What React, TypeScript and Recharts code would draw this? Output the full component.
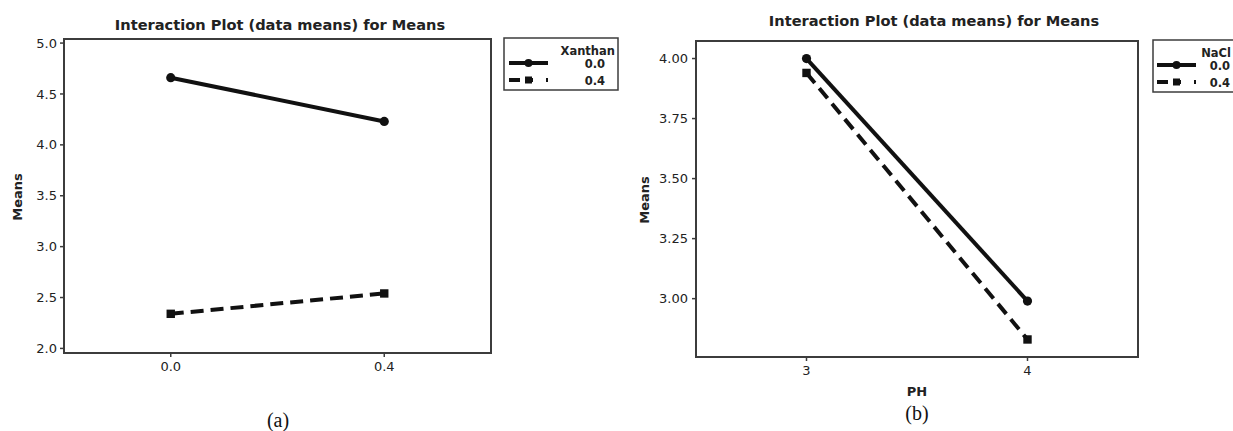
import React from "react";
import { LineChart, Line, XAxis, YAxis, ReferenceArea } from "recharts";

// ---- data ----
const xanthanLevels = [0.0, 0.4];
const xanthanTickLabels = ["0.0", "0.4"];
const meansXanthan00 = [4.66, 4.23];
const meansXanthan04 = [2.34, 2.54];
const leftYTicks = [2.0, 2.5, 3.0, 3.5, 4.0, 4.5, 5.0];

const phLevels = [3, 4];
const phTickLabels = ["3", "4"];
const meansNaCl00 = [4.0, 2.99];
const meansNaCl04 = [3.94, 2.83];
const rightYTicks = [3.0, 3.25, 3.5, 3.75, 4.0];

const legendLevels = ["0.0", "0.4"];
const titleText = "Interaction Plot (data means) for Means";

const toPoints = (xs: number[], ys: number[]) => xs.map((x, i) => ({ x, y: ys[i] }));

const INK = "#111";
const FRAME = "#3c3c3c";
const SANS = "'DejaVu Sans', Verdana, sans-serif";
const SERIF = "'Liberation Serif', 'Times New Roman', serif";

const CircleDot = (p: any) => {
  if (p.cx == null || p.cy == null) return <g key={p.key} />;
  return <circle key={p.key} cx={p.cx} cy={p.cy} r={4.6} fill={INK} stroke="none" />;
};
const SquareDot = (p: any) => {
  if (p.cx == null || p.cy == null) return <g key={p.key} />;
  return <rect key={p.key} x={p.cx - 4.2} y={p.cy - 4.2} width={8.4} height={8.4} fill={INK} stroke="none" />;
};

const tickStyle = { fontFamily: SANS, fontSize: 13, fill: "#222" };
const tickLineStyle = { stroke: FRAME, strokeWidth: 1.5 };

function Panel(props: {
  left: number;
  width: number;
  yAxisWidth: number;
  marginTop: number;
  marginRight: number;
  marginBottom: number;
  xDomain: [number, number];
  yDomain: [number, number];
  xTicks: number[];
  xLabels: string[];
  yTicks: number[];
  yDigits: number;
  s0: { x: number; y: number }[];
  s1: { x: number; y: number }[];
  xTickMargin: number;
  yTickMargin: number;
}) {
  const p = props;
  return (
    <div style={{ position: "absolute", left: p.left, top: 0 }}>
      <LineChart
        width={p.width}
        height={431}
        margin={{ top: p.marginTop, right: p.marginRight, bottom: p.marginBottom, left: 0 }}
      >
        <XAxis
          dataKey="x"
          type="number"
          domain={p.xDomain}
          ticks={p.xTicks}
          tickFormatter={(v: number) => p.xLabels[p.xTicks.indexOf(v)] ?? String(v)}
          axisLine={false}
          tickLine={tickLineStyle}
          tickSize={4}
          tickMargin={p.xTickMargin}
          tick={tickStyle}
          height={30}
          allowDataOverflow
        />
        <YAxis
          dataKey="y"
          type="number"
          domain={p.yDomain}
          ticks={p.yTicks}
          tickFormatter={(v: number) => v.toFixed(p.yDigits)}
          axisLine={false}
          tickLine={tickLineStyle}
          tickSize={4}
          tickMargin={p.yTickMargin}
          tick={tickStyle}
          width={p.yAxisWidth}
          allowDataOverflow
        />
        <ReferenceArea
          x1={p.xDomain[0]}
          x2={p.xDomain[1]}
          y1={p.yDomain[0]}
          y2={p.yDomain[1]}
          fill="none"
          stroke={FRAME}
          strokeWidth={2}
          ifOverflow="visible"
        />
        <Line
          data={p.s0}
          dataKey="y"
          stroke={INK}
          strokeWidth={4}
          dot={CircleDot}
          activeDot={false}
          isAnimationActive={false}
        />
        <Line
          data={p.s1}
          dataKey="y"
          stroke={INK}
          strokeWidth={4}
          strokeDasharray="13 7"
          dot={SquareDot}
          activeDot={false}
          isAnimationActive={false}
        />
      </LineChart>
    </div>
  );
}

function LegendBox(props: { x: number; y: number; w: number; h: number; title: string; titleRight: number; labelRight: number; lineX0: number; lineX1: number }) {
  const p = props;
  const markX = (p.lineX0 + p.lineX1) / 2;
  const r0 = p.y + 25;
  const r1 = p.y + 42;
  return (
    <g>
      <rect x={p.x} y={p.y} width={p.w} height={p.h} fill="#fff" stroke={FRAME} strokeWidth={1.5} />
      <text x={p.titleRight} y={p.y + 17} textAnchor="end" fontFamily={SANS} fontWeight="bold" fontSize={11.5} fill="#222">
        {p.title}
      </text>
      <line x1={p.lineX0} x2={p.lineX1} y1={r0} y2={r0} stroke={INK} strokeWidth={4} />
      <circle cx={markX} cy={r0} r={4} fill={INK} />
      <line x1={p.lineX0} x2={p.lineX0 + 11} y1={r1} y2={r1} stroke={INK} strokeWidth={4} />
      <line x1={p.lineX0 + 16} x2={p.lineX0 + 24} y1={r1} y2={r1} stroke={INK} strokeWidth={4} />
      <rect x={markX - 3.5} y={r1 - 3.5} width={7} height={7} fill={INK} />
      <line x1={p.lineX1 - 2} x2={p.lineX1} y1={r1} y2={r1} stroke={INK} strokeWidth={4} />
      <text x={p.labelRight} y={r0 + 4.5} textAnchor="end" fontFamily={SANS} fontWeight="bold" fontSize={11.5} fill="#222">
        {legendLevels[0]}
      </text>
      <text x={p.labelRight} y={r1 + 4.5} textAnchor="end" fontFamily={SANS} fontWeight="bold" fontSize={11.5} fill="#222">
        {legendLevels[1]}
      </text>
    </g>
  );
}

export default function App() {
  return (
    <div style={{ position: "absolute", left: 0, top: 0, width: 1233, height: 431, background: "#fff", overflow: "hidden" }}>
      <Panel
        left={0}
        width={620}
        yAxisWidth={64}
        marginTop={39}
        marginRight={129}
        marginBottom={48}
        xDomain={[-0.2, 0.6]}
        yDomain={[1.955, 5.04]}
        xTicks={xanthanLevels}
        xLabels={xanthanTickLabels}
        yTicks={leftYTicks}
        yDigits={1}
        s0={toPoints(xanthanLevels, meansXanthan00)}
        s1={toPoints(xanthanLevels, meansXanthan04)}
        xTickMargin={5}
        yTickMargin={3}
      />
      <Panel
        left={610}
        width={623}
        yAxisWidth={86}
        marginTop={41}
        marginRight={95}
        marginBottom={44}
        xDomain={[2.5, 4.5]}
        yDomain={[2.757, 4.073]}
        xTicks={phLevels}
        xLabels={phTickLabels}
        yTicks={rightYTicks}
        yDigits={2}
        s0={toPoints(phLevels, meansNaCl00)}
        s1={toPoints(phLevels, meansNaCl04)}
        xTickMargin={5}
        yTickMargin={4}
      />
      <svg width={1233} height={431} style={{ position: "absolute", left: 0, top: 0, pointerEvents: "none" }}>
        <text x={280} y={30} textAnchor="middle" fontFamily={SANS} fontWeight="bold" fontSize={14.6} fill="#222">
          {titleText}
        </text>
        <text x={934} y={25.5} textAnchor="middle" fontFamily={SANS} fontWeight="bold" fontSize={14.6} fill="#222">
          {titleText}
        </text>
        <text transform="translate(22,197) rotate(-90)" textAnchor="middle" fontFamily={SANS} fontWeight="bold" fontSize={13} fill="#222">
          Means
        </text>
        <text transform="translate(649,200) rotate(-90)" textAnchor="middle" fontFamily={SANS} fontWeight="bold" fontSize={13} fill="#222">
          Means
        </text>
        <text x={917} y={396} textAnchor="middle" fontFamily={SANS} fontWeight="bold" fontSize={13} fill="#222">
          PH
        </text>
        <text x={278} y={427} textAnchor="middle" fontFamily={SERIF} fontSize={20} fill="#111">
          (a)
        </text>
        <text x={917} y={420} textAnchor="middle" fontFamily={SERIF} fontSize={20} fill="#111">
          (b)
        </text>
        <LegendBox x={504} y={38} w={114} h={52} title="Xanthan" titleRight={615} labelRight={605} lineX0={509} lineX1={548} />
        <LegendBox x={1153} y={40} w={100} h={52} title="NaCl" titleRight={1231} labelRight={1230} lineX0={1157} lineX1={1196} />
      </svg>
    </div>
  );
}
